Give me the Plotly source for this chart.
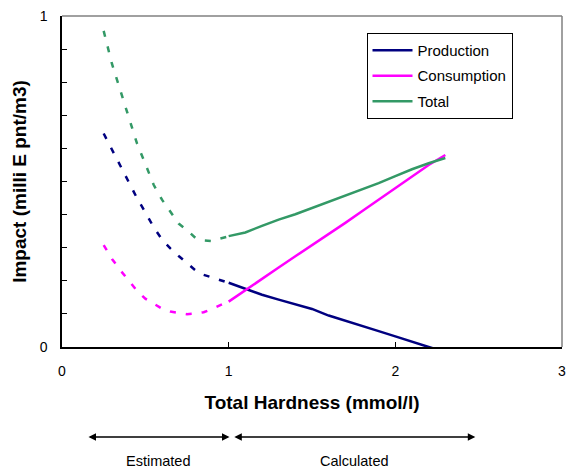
import plotly.graph_objects as go

# Estimated (dashed) region
x_est = [0.25, 0.30, 0.35, 0.40, 0.45, 0.50, 0.55, 0.60, 0.65, 0.70, 0.75, 0.80, 0.85, 0.90, 0.95, 1.00]
prod_est = [0.645, 0.597, 0.550, 0.500, 0.450, 0.407, 0.362, 0.325, 0.298, 0.275, 0.253, 0.232, 0.218, 0.210, 0.200, 0.194]
cons_est = [0.308, 0.266, 0.232, 0.200, 0.170, 0.146, 0.130, 0.116, 0.107, 0.102, 0.099, 0.101, 0.105, 0.115, 0.127, 0.138]
total_est = [0.955, 0.855, 0.775, 0.695, 0.615, 0.553, 0.490, 0.445, 0.410, 0.373, 0.353, 0.330, 0.322, 0.320, 0.328, 0.334]

# Calculated (solid) region
x_calc = [1.0, 1.1, 1.2, 1.3, 1.4, 1.5, 1.6, 1.7, 1.8, 1.9, 2.0, 2.1, 2.2, 2.3]
prod_calc = [0.194, 0.175, 0.158, 0.143, 0.130, 0.115, 0.095, 0.080, 0.065, 0.048, 0.032, 0.015, 0.000, -0.015]
cons_calc = [0.137, 0.172, 0.206, 0.240, 0.274, 0.307, 0.340, 0.375, 0.410, 0.445, 0.480, 0.516, 0.550, 0.580]
total_calc = [0.335, 0.346, 0.366, 0.385, 0.401, 0.420, 0.437, 0.456, 0.476, 0.495, 0.516, 0.537, 0.555, 0.571]

series_names = ["Production", "Consumption", "Total"]
colors = ["#000080", "#FF00FF", "#339966"]

x_ticks = [0, 1, 2, 3]
y_ticks = [0, 0.1, 0.2, 0.3, 0.4, 0.5, 0.6, 0.7, 0.8, 0.9, 1.0]
y_ticktext = ["0", "", "", "", "", "", "", "", "", "", "1"]

region_labels = ["Estimated", "Calculated"]
region_bounds = [(0.15, 1.005), (1.025, 2.48)]

FONT = "Liberation Sans, Arial, sans-serif"

fig = go.Figure()
est = [prod_est, cons_est, total_est]
calc = [prod_calc, cons_calc, total_calc]
for i, name in enumerate(series_names):
    fig.add_trace(go.Scatter(x=x_est, y=est[i], mode="lines", showlegend=False,
                             line=dict(color=colors[i], width=2.5, dash="6px,10px"),
                             hoverinfo="skip"))
for i, name in enumerate(series_names):
    fig.add_trace(go.Scatter(x=x_calc, y=calc[i], mode="lines", name=name,
                             legendgroup=name,
                             line=dict(color=colors[i], width=2.5)))

annotations = []
for lab, (a, b) in zip(region_labels, region_bounds):
    annotations.append(dict(x=b, y=-0.272, ax=a, ay=0, xref="x", yref="paper",
                            axref="x", ayref="pixel", text="", showarrow=True,
                            arrowhead=2, arrowside="end+start", arrowsize=1,
                            arrowwidth=1.5, arrowcolor="black", standoff=0, startstandoff=0))
    annotations.append(dict(x=(a + b) / 2, y=-0.313, xref="x", yref="paper", text=lab,
                            showarrow=False, yanchor="top",
                            font=dict(family=FONT, size=14.5, color="black")))

fig.update_layout(
    width=569, height=468,
    margin=dict(l=62, r=3, t=16, b=121),
    paper_bgcolor="white", plot_bgcolor="white",
    font=dict(family=FONT, size=14, color="black"),
    showlegend=True,
    legend=dict(x=0.609, y=0.949, xanchor="left", yanchor="top",
                bordercolor="black", borderwidth=1, bgcolor="white",
                itemwidth=40, tracegroupgap=3,
                font=dict(family=FONT, size=15, color="black")),
    xaxis=dict(range=[0, 3], tickvals=x_ticks, ticks="inside", ticklen=5,
               tickcolor="black", showline=True, linecolor="black", linewidth=1.5,
               showgrid=False, zeroline=False, ticklabelstandoff=10,
               ticklabeloverflow="allow",
               tickfont=dict(size=14),
               title=dict(text="<b>Total Hardness (mmol/l)</b>", font=dict(size=19), standoff=18)),
    yaxis=dict(range=[0, 1], tickvals=y_ticks, ticktext=y_ticktext, ticks="inside",
               ticklen=5, tickcolor="black", showline=True, linecolor="black", linewidth=1.5,
               showgrid=False, zeroline=False, ticklabelstandoff=10,
               ticklabeloverflow="allow",
               tickfont=dict(size=14),
               title=dict(text="<b>Impact (milli E pnt/m3)</b>", font=dict(size=19), standoff=8)),
    shapes=[
        dict(type="line", xref="paper", yref="paper", x0=0, x1=1, y0=1, y1=1,
             line=dict(color="#808080", width=1.5)),
        dict(type="line", xref="paper", yref="paper", x0=1, x1=1, y0=0, y1=1,
             line=dict(color="#808080", width=1.5)),
    ],
    annotations=annotations,
)

fig.write_html("out.html", config={"displayModeBar": False},
               post_script="document.body.style.margin='0';")
